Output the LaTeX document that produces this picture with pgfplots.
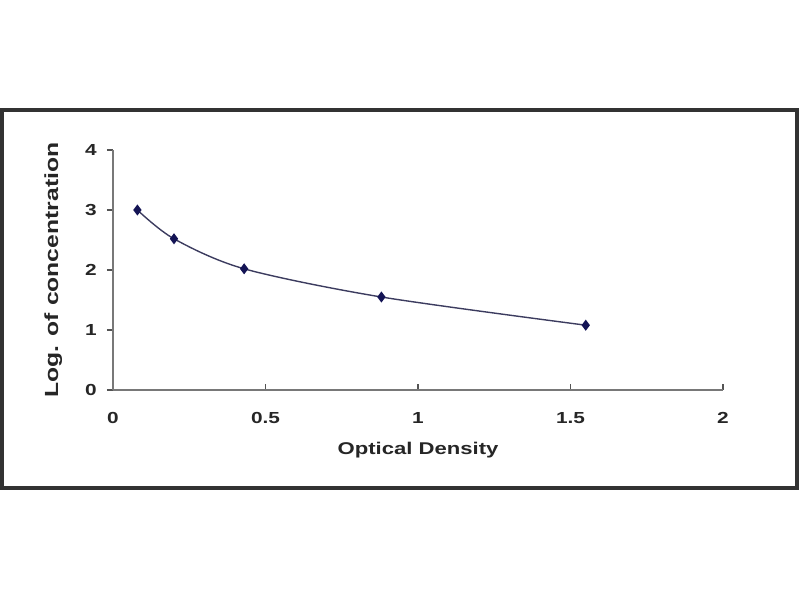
\documentclass[border=0pt]{standalone}
\usepackage{fontspec}
\setmainfont[FakeStretch=1.3]{Liberation Sans}
\usepackage{pgfplots}
\pgfplotsset{compat=1.18}
\definecolor{navy}{RGB}{20,20,85}
\definecolor{curve}{RGB}{60,60,95}
\definecolor{axgray}{RGB}{120,120,120}
\definecolor{framec}{RGB}{50,50,50}
\begin{document}
\begin{tikzpicture}[x=1pt,y=1pt]
\useasboundingbox (0,0) rectangle (400,300);
\draw[line width=1.6pt, color=framec] (1,56) rectangle (398.5,245);
\begin{axis}[
  at={(56.5pt,105pt)}, anchor=south west,
  scale only axis, width=305pt, height=120pt,
  xmin=0, xmax=2, ymin=0, ymax=4,
  axis lines*=left,
  axis line style={axgray, line width=1.2pt},
  xtick={0,0.5,1,1.5,2}, ytick={0,1,2,3,4},
  tick align=inside,
  major tick length=3pt,
  tick style={axgray!70!black, line width=0.8pt},
  ytick style={xshift=-3pt},
  /pgf/number format/assume math mode=true,
  ticklabel style={font=\bfseries\fontsize{8}{9}\selectfont, text=black!85},
  xticklabel style={anchor=north, inner sep=0pt, yshift=-11pt},
  yticklabel style={anchor=east, inner sep=0pt, xshift=-8pt},
  xlabel={Optical Density},
  ylabel={Log. of concentration},
  x label style={at={(axis description cs:0.5,-0.25)}, anchor=center, font=\bfseries\fontsize{8.5}{10}\selectfont, text=black!85},
  y label style={at={(axis description cs:-0.098,0.5)}, anchor=center, font=\bfseries\fontsize{9.5}{11}\selectfont, text=black!85},
  clip=false,
]
\addplot[color=curve, line width=0.7pt, smooth, mark=diamond*, mark size=2.2pt, mark options={fill=navy, draw=navy}]
  coordinates {(0.08,3.0) (0.2,2.52) (0.43,2.02) (0.88,1.55) (1.55,1.08)};
\end{axis}
\end{tikzpicture}
\end{document}
